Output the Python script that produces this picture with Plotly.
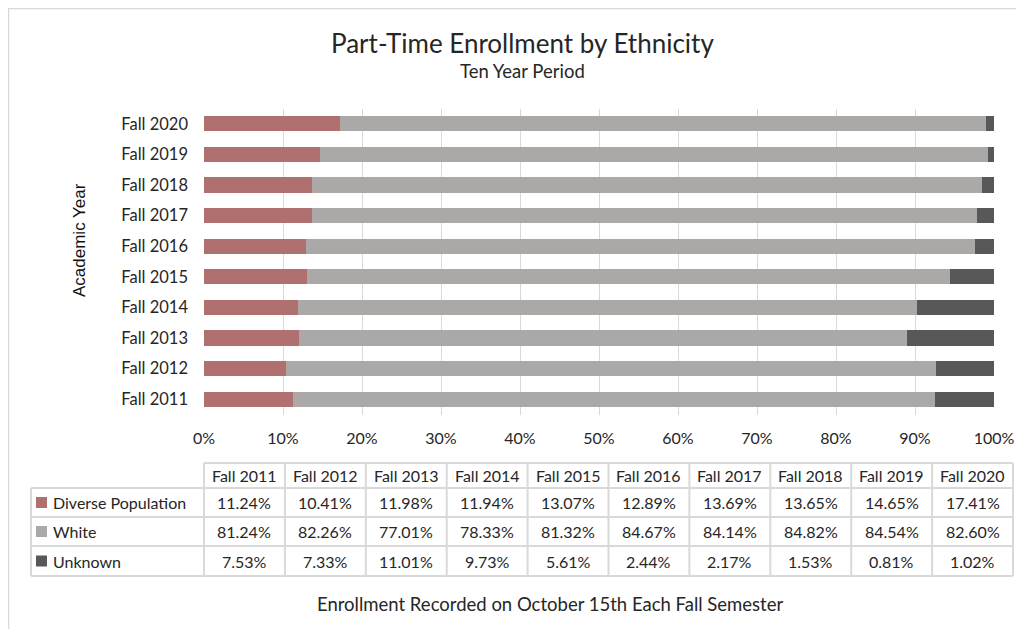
"""Part-time enrollment by ethnicity, stacked bars with an Excel-style data table."""

import plotly.graph_objects as go

# page body has an 8px margin, so the figure is drawn 8px in and 8px down;
# keep it small enough that the page never needs scrollbars
OFF = 8
W, H = 1024 - 2 * OFF, 637 - 2 * OFF
FONT = "Lato, Carlito, Calibri, sans-serif"
TEXT = "#262626"
GRID = "#d9d9d9"

years = ["Fall 2011", "Fall 2012", "Fall 2013", "Fall 2014", "Fall 2015",
         "Fall 2016", "Fall 2017", "Fall 2018", "Fall 2019", "Fall 2020"]
diverse = [11.24, 10.41, 11.98, 11.94, 13.07, 12.89, 13.69, 13.65, 14.65, 17.41]
white = [81.24, 82.26, 77.01, 78.33, 81.32, 84.67, 84.14, 84.82, 84.54, 82.60]
unknown = [7.53, 7.33, 11.01, 9.73, 5.61, 2.44, 2.17, 1.53, 0.81, 1.02]

series = [
    ("Diverse Population", diverse, "#b0706f"),
    ("White", white, "#aaa9a8"),
    ("Unknown", unknown, "#585858"),
]
# 100% stacked: each year is scaled to its own total
totals = [d + w + u for d, w, u in zip(diverse, white, unknown)]


def px(x):
    return (x - OFF) / W


def py(y):
    return 1 - (y - OFF) / H


fig = go.Figure()
for name, vals, color in series:
    fig.add_trace(go.Bar(
        y=years, x=[v / t for v, t in zip(vals, totals)], name=name, orientation="h",
        marker=dict(color=color, line=dict(width=0)),
    ))

fig.update_layout(
    width=W, height=H,
    barmode="stack", bargap=0.5,
    showlegend=False,
    paper_bgcolor="white", plot_bgcolor="white",
    margin=dict(l=0, r=0, t=0, b=0, pad=0),
    font=dict(family=FONT, color=TEXT, size=16),
    xaxis=dict(domain=[px(204), px(994)], range=[0, 1], dtick=0.1, tickformat=".0%",
               showgrid=True, gridcolor=GRID, gridwidth=1, zeroline=False, automargin=False,
               showline=False, ticklabelstandoff=12, tickfont=dict(size=16, color=TEXT)),
    yaxis=dict(domain=[py(414.5), py(108.5)], showgrid=False, zeroline=False, automargin=False,
               showline=False, ticklabelstandoff=15, tickfont=dict(size=16.5, color=TEXT)),
)

ann = []
shapes = []

# outer chart frame (right and bottom edges fall outside the view)
shapes.append(dict(type="rect", xref="paper", yref="paper",
                   x0=px(8.5), x1=px(1040), y0=py(660), y1=py(8.5),
                   line=dict(color=GRID, width=1.5), layer="below"))

ann.append(dict(text="Part-Time Enrollment by Ethnicity", x=px(522), y=py(43),
                font=dict(size=26, color=TEXT)))
ann.append(dict(text="Ten Year Period", x=px(522), y=py(71), font=dict(size=18.5, color=TEXT)))
ann.append(dict(text="Enrollment Recorded on October 15th Each Fall Semester",
                x=px(550), y=py(604), font=dict(size=18.5, color=TEXT)))
ann.append(dict(text="Academic Year", x=px(79), y=py(240), textangle=-90,
                font=dict(family="Liberation Sans, Arial, sans-serif", size=17, color="#111")))

# data table under the chart
col_x0, col_w = 204, 80.9
row_y = [463, 488, 517, 546, 576]
lbl_x0 = 31
col_edges = [col_x0 + i * col_w for i in range(len(years) + 1)]


def hline(x0, x1, y):
    shapes.append(dict(type="line", xref="paper", yref="paper", x0=px(x0), x1=px(x1),
                       y0=py(y), y1=py(y), line=dict(color=GRID, width=2)))


def vline(x, y0, y1):
    shapes.append(dict(type="line", xref="paper", yref="paper", x0=px(x), x1=px(x),
                       y0=py(y0), y1=py(y1), line=dict(color=GRID, width=2)))


hline(col_edges[0], col_edges[-1], row_y[0])
for y in row_y[1:]:
    hline(lbl_x0, col_edges[-1], y)
vline(lbl_x0, row_y[1], row_y[-1])
for x in col_edges:
    vline(x, row_y[0], row_y[-1])

for i, yr in enumerate(years):
    cx = (col_edges[i] + col_edges[i + 1]) / 2
    ann.append(dict(text=yr, x=px(cx), y=py((row_y[0] + row_y[1]) / 2), font=dict(size=16)))

for r, (name, vals, color) in enumerate(series):
    cy = (row_y[r + 1] + row_y[r + 2]) / 2
    shapes.append(dict(type="rect", xref="paper", yref="paper",
                       x0=px(36), x1=px(47), y0=py(cy + 5.5), y1=py(cy - 5.5),
                       fillcolor=color, line=dict(width=0)))
    ann.append(dict(text=name, x=px(51), y=py(cy), xanchor="left", font=dict(size=16)))
    for i, v in enumerate(vals):
        cx = (col_edges[i] + col_edges[i + 1]) / 2
        ann.append(dict(text=f"{v:.2f}%", x=px(cx), y=py(cy), font=dict(size=16)))

for a in ann:
    a.setdefault("xref", "paper")
    a.setdefault("yref", "paper")
    a.setdefault("showarrow", False)
    a.setdefault("xanchor", "center")
    a.setdefault("yanchor", "middle")

fig.update_layout(annotations=ann, shapes=shapes)
fig.write_html("out.html")
